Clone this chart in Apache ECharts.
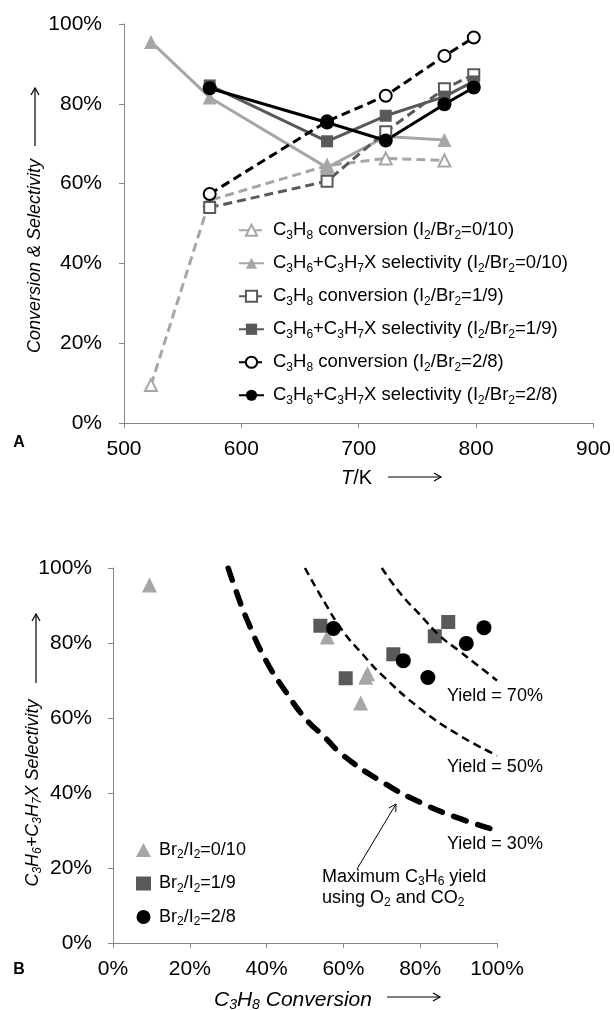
<!DOCTYPE html>
<html>
<head>
<meta charset="utf-8">
<script src="https://cdn.jsdelivr.net/npm/echarts@6/dist/echarts.min.js"></script>
<style>
  html, body { margin: 0; padding: 0; background: #fff; }
  #chart { width: 614px; height: 1010px; }
</style>
</head>
<body>
<div id="chart"></div>
<script>
// Panel A: temperatures (K)
var tempsLow = [523, 573, 673, 723, 773];
var tempsHigh = [573, 673, 723, 773, 798];

// conversion / selectivity in %, one pair per I2/Br2 ratio
var conv0 = [9.5, 55.8, 64.5, 66.3, 65.8];
var sel0 = [95.5, 81.6, 64.0, 71.8, 70.9];
var conv1 = [54.0, 60.6, 73.0, 83.8, 87.3];
var sel1 = [84.6, 70.6, 77.0, 81.8, 85.6];
var conv2 = [57.4, 75.6, 82.0, 92.0, 96.6];
var sel2 = [83.9, 75.3, 70.8, 79.9, 84.1];

// Panel B: iso-yield curves
var yield30Conv = [30, 32, 35, 40, 45, 50, 55, 60, 70, 80, 90, 100];
var yield30Sel = [100, 94, 86, 75, 67, 60, 55, 50, 43, 37.5, 33.3, 30];
var yield50Conv = [50, 55, 60, 65, 70, 80, 90, 100];
var yield50Sel = [100, 91, 83, 77, 71.5, 62.5, 55.5, 50];
var yield70Conv = [70, 75, 80, 85, 90, 95, 100];
var yield70Sel = [100, 93, 87.5, 82, 78, 74, 70];

var legendA = [
  "C_3H_8 conversion (I_2/Br_2=0/10)",
  "C_3H_6+C_3H_7X selectivity (I_2/Br_2=0/10)",
  "C_3H_8 conversion (I_2/Br_2=1/9)",
  "C_3H_6+C_3H_7X selectivity (I_2/Br_2=1/9)",
  "C_3H_8 conversion (I_2/Br_2=2/8)",
  "C_3H_6+C_3H_7X selectivity (I_2/Br_2=2/8)"
];
var legendB = ["Br_2/I_2=0/10", "Br_2/I_2=1/9", "Br_2/I_2=2/8"];

var LIGHT = "#a6a6a6", DARK = "#595959", BLACK = "#000";
var FONT = "Liberation Sans, Arial, sans-serif";
var AXIS = "#868686";

// "C_3" -> rich text with subscript digit
function sub(str) {
  return "{n|" + str.replace(/_(\w)/g, "}{s|$1}{n|") + "}";
}
function richStyle(size, italic) {
  var fs = italic ? "italic" : "normal";
  return {
    n: { fontSize: size, fontStyle: fs, lineHeight: size + 4, fontFamily: FONT, color: "#000" },
    s: { fontSize: Math.round(size * 0.66), fontStyle: fs, lineHeight: 12, verticalAlign: "bottom", fontFamily: FONT, color: "#000" }
  };
}
function pairs(xs, ys) {
  var out = [];
  for (var i = 0; i < ys.length; i++) out.push([xs[i], ys[i]]);
  return out;
}
function arrow(x1, y1, x2, y2, w) {
  var dx = x2 - x1, dy = y2 - y1, len = Math.sqrt(dx * dx + dy * dy);
  var ux = dx / len, uy = dy / len, h = 7, s = 4;
  return [
    { type: "line", shape: { x1: x1, y1: y1, x2: x2, y2: y2 }, style: { stroke: "#000", lineWidth: w || 1.2 } },
    { type: "polyline", shape: { points: [
        [x2 - ux * h - uy * s, y2 - uy * h + ux * s], [x2, y2], [x2 - ux * h + uy * s, y2 - uy * h - ux * s]
      ] }, style: { stroke: "#000", fill: null, lineWidth: w || 1.2 } }
  ];
}
function label(x, y, text, size, opts) {
  opts = opts || {};
  return {
    type: "text", x: x, y: y, rotation: opts.rotation || 0,
    style: {
      text: sub(text), rich: richStyle(size, opts.italic),
      fontSize: size, fontFamily: FONT, fill: "#000",
      align: opts.align || "left", verticalAlign: "middle"
    }
  };
}

function valueAxis(grid, min, max, interval, pct, margin) {
  return {
    type: "value", gridIndex: grid, min: min, max: max, interval: interval,
    axisLine: { show: true, lineStyle: { color: AXIS, width: 1 } },
    axisTick: { show: true, length: 5, lineStyle: { color: AXIS } },
    splitLine: { show: false },
    axisLabel: { color: "#000", fontSize: 21, fontFamily: FONT, margin: margin,
      formatter: pct ? "{value}%" : "{value}" }
  };
}

function lineSeries(name, xs, ys, color, symbol, size, open, dashed) {
  return {
    name: name, type: "line", xAxisIndex: 0, yAxisIndex: 0,
    data: pairs(xs, ys), symbol: symbol, symbolSize: size, showSymbol: true,
    lineStyle: { color: color, width: 3, type: dashed ? [9, 5] : "solid" },
    itemStyle: open ? { color: "#fff", borderColor: color, borderWidth: 2 } : { color: color, borderWidth: 0 },
    emphasis: { disabled: true }, animation: false
  };
}
function curveSeries(xs, ys, width, dash, cap) {
  return {
    type: "line", xAxisIndex: 1, yAxisIndex: 1, data: pairs(xs, ys),
    showSymbol: false, smooth: true, silent: true,
    lineStyle: { color: "#000", width: width, type: dash, cap: cap || "butt" },
    animation: false
  };
}
function scatterSeries(name, xs, ys, color, symbol, size) {
  return {
    name: name, type: "scatter", xAxisIndex: 1, yAxisIndex: 1,
    data: pairs(xs, ys), symbol: symbol, symbolSize: size,
    itemStyle: { color: color, opacity: 1 }, emphasis: { disabled: true }, animation: false
  };
}

var chart = echarts.init(document.getElementById("chart"), null, { renderer: "canvas" });

var graphics = []
  .concat([
    { type: "text", x: 19, y: 443, style: { text: "A", font: "bold 16px " + FONT, fill: "#000", align: "center", verticalAlign: "middle" } },
    { type: "text", x: 19, y: 970, style: { text: "B", font: "bold 16px " + FONT, fill: "#000", align: "center", verticalAlign: "middle" } },
    // panel A axis titles
    { type: "text", x: 341, y: 478, style: { text: "{i|T}{n|/K}", rich: {
        i: { fontSize: 20, fontStyle: "italic", fontFamily: FONT, color: "#000" },
        n: { fontSize: 20, fontFamily: FONT, color: "#000" } }, verticalAlign: "middle" } },
    label(35, 256, "Conversion & Selectivity", 18, { italic: true, rotation: Math.PI / 2, align: "center" }),
    // panel B axis titles
    label(214, 1000, "C_3H_8 Conversion", 21, { italic: true }),
    label(33, 793, "C_3H_6+C_3H_7X Selectivity", 18, { italic: true, rotation: Math.PI / 2, align: "center" }),
    // panel B annotations
    label(447, 696, "Yield = 70%", 18),
    label(447, 767, "Yield = 50%", 18),
    label(447, 844, "Yield = 30%", 18),
    label(322, 877, "Maximum C_3H_6 yield", 18),
    label(322, 898, "using O_2 and CO_2", 18)
  ])
  .concat(arrow(388, 477, 441, 477))
  .concat(arrow(35, 146, 35, 88))
  .concat(arrow(387, 997, 440, 997))
  .concat(arrow(36, 683, 36, 614))
  .concat(arrow(357, 869, 396, 804, 1));

var option = {
  backgroundColor: "#fff",
  animation: false,
  textStyle: { fontFamily: FONT },
  grid: [
    { left: 124, top: 24, width: 470, height: 399 },
    { left: 113, top: 568, width: 384, height: 375 }
  ],
  xAxis: [valueAxis(0, 500, 900, 100, false, 16), valueAxis(1, 0, 100, 20, true, 16)],
  yAxis: [valueAxis(0, 0, 100, 20, true, 22), valueAxis(1, 0, 100, 20, true, 21)],
  legend: [
    {
      data: legendA, orient: "vertical", left: 238, top: 219, padding: 0,
      itemWidth: 25, itemHeight: 14, itemGap: 10.5, selectedMode: false,
      formatter: function (name) { return sub(name); },
      textStyle: { fontSize: 18.5, color: "#000", lineHeight: 22, padding: [0, 0, 0, 4], rich: richStyle(18.5, false) }
    },
    {
      data: legendB, orient: "vertical", left: 136, top: 839, padding: 0,
      itemWidth: 15, itemHeight: 14, itemGap: 11.5, selectedMode: false,
      formatter: function (name) { return sub(name); },
      textStyle: { fontSize: 18, color: "#000", lineHeight: 22, padding: [0, 0, 0, 3], rich: richStyle(18, false) }
    }
  ],
  graphic: graphics,
  series: [
    lineSeries(legendA[0], tempsLow, conv0, LIGHT, "triangle", 12, true, true),
    lineSeries(legendA[1], tempsLow, sel0, LIGHT, "triangle", 14, false, false),
    lineSeries(legendA[2], tempsHigh, conv1, DARK, "rect", 11, true, true),
    lineSeries(legendA[3], tempsHigh, sel1, DARK, "rect", 12, false, false),
    lineSeries(legendA[4], tempsHigh, conv2, BLACK, "circle", 12, true, true),
    lineSeries(legendA[5], tempsHigh, sel2, BLACK, "circle", 14, false, false),
    curveSeries(yield30Conv, yield30Sel, 5.5, [13, 12], "round"),
    curveSeries(yield50Conv, yield50Sel, 2.5, [8, 5]),
    curveSeries(yield70Conv, yield70Sel, 2.5, [8, 5]),
    scatterSeries(legendB[0], conv0, sel0, LIGHT, "triangle", 15),
    scatterSeries(legendB[1], conv1, sel1, DARK, "rect", 14),
    scatterSeries(legendB[2], conv2, sel2, BLACK, "circle", 15)
  ]
};

chart.setOption(option);
</script>
</body>
</html>
